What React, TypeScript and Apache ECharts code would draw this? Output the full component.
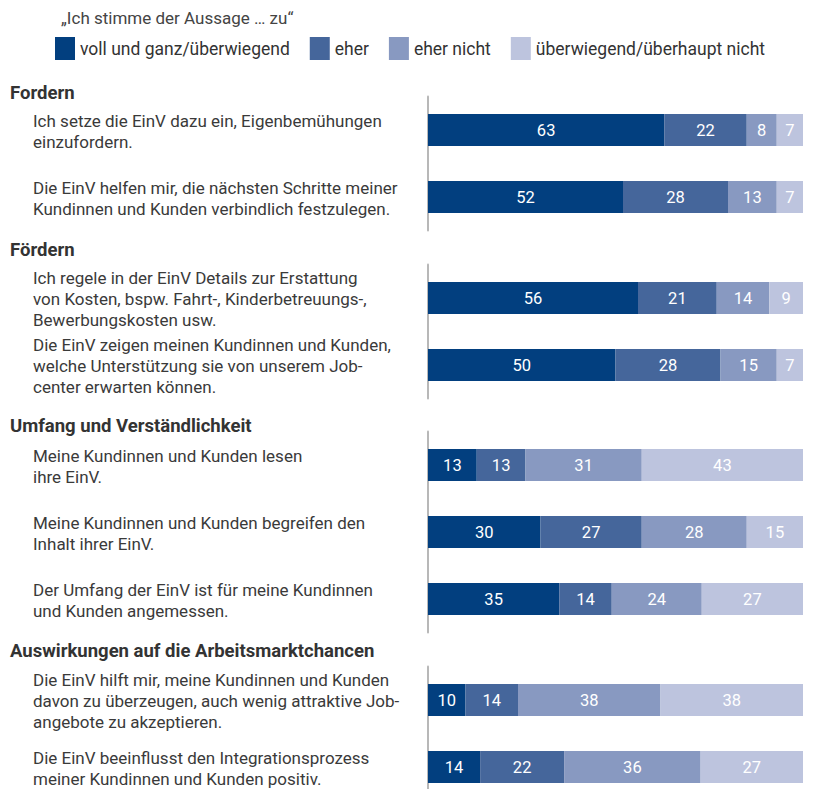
import React, { useEffect, useRef } from "react";
import * as echarts from "echarts";

// ---- data ----
const legendTitle = "„Ich stimme der Aussage … zu“";
const seriesNames = [
  "voll und ganz/überwiegend",
  "eher",
  "eher nicht",
  "überwiegend/überhaupt nicht",
];
const groupTitles = [
  "Fordern",
  "Fördern",
  "Umfang und Verständlichkeit",
  "Auswirkungen auf die Arbeitsmarktchancen",
];
const groupSizes = [2, 2, 3, 2];
const statements = [
  "Ich setze die EinV dazu ein, Eigenbemühungen\neinzufordern.",
  "Die EinV helfen mir, die nächsten Schritte meiner\nKundinnen und Kunden verbindlich festzulegen.",
  "Ich regele in der EinV Details zur Erstattung\nvon Kosten, bspw. Fahrt-, Kinderbetreuungs-,\nBewerbungskosten usw.",
  "Die EinV zeigen meinen Kundinnen und Kunden,\nwelche Unterstützung sie von unserem Job-\ncenter erwarten können.",
  "Meine Kundinnen und Kunden lesen\nihre EinV.",
  "Meine Kundinnen und Kunden begreifen den\nInhalt ihrer EinV.",
  "Der Umfang der EinV ist für meine Kundinnen\nund Kunden angemessen.",
  "Die EinV hilft mir, meine Kundinnen und Kunden\ndavon zu überzeugen, auch wenig attraktive Job-\nangebote zu akzeptieren.",
  "Die EinV beeinflusst den Integrationsprozess\nmeiner Kundinnen und Kunden positiv.",
];
const vollUndGanz = [63, 52, 56, 50, 13, 30, 35, 10, 13.9];
const eher = [22, 28, 21, 28, 13, 27, 14, 14, 22.4];
const eherNicht = [8, 13, 14, 15, 31, 28, 24, 38, 36.4];
const ueberhauptNicht = [7, 7, 9, 7, 43, 15, 27, 38, 27.3];

// ---- styling / layout ----
const colors = ["#023f7f", "#45669b", "#8899c1", "#bdc4de"];
const FONT = "Roboto, sans-serif";
const gridTops = [96.5, 264.5, 431.5, 666.5];
const headerY = [93, 250, 426, 651];
const BAND = 67;
const LABEL_BOX = 385;

export default function App() {
  const ref = useRef<HTMLDivElement>(null);
  useEffect(() => {
    if (!ref.current) return;
    const chart = echarts.init(ref.current, undefined, { renderer: "svg" });
    const allSeries = [vollUndGanz, eher, eherNicht, ueberhauptNicht];

    const grids: any[] = [];
    const xAxes: any[] = [];
    const yAxes: any[] = [];
    const series: any[] = [];
    let start = 0;
    groupSizes.forEach((n, g) => {
      grids.push({
        left: 428,
        right: 11,
        top: gridTops[g],
        height: BAND * n,
        containLabel: false,
        outerBoundsMode: "none",
      });
      xAxes.push({ type: "value", gridIndex: g, min: 0, max: 100, show: false });
      yAxes.push({
        type: "category",
        gridIndex: g,
        inverse: true,
        data: statements.slice(start, start + n),
        axisLine: { show: true, lineStyle: { color: "#b8b8b8", width: 2 } },
        axisTick: { show: false },
        splitLine: { show: false },
        axisLabel: {
          interval: 0,
          hideOverlap: false,
          margin: 428 - 33 - LABEL_BOX,
          align: "right",
          verticalAlign: "middle",
          padding: [2, 0, 0, 0],
          color: "#3a3a3a",
          fontSize: 17,
          lineHeight: 21,
          fontFamily: FONT,
          formatter: (v: string) =>
            v
              .split("\n")
              .map((l) => "{t|" + l + "}")
              .join("\n"),
          rich: {
            t: {
              width: LABEL_BOX,
              align: "left",
              color: "#3a3a3a",
              fontSize: 17,
              lineHeight: 21,
              fontFamily: FONT,
            },
          },
        },
      });
      allSeries.forEach((arr, k) => {
        series.push({
          type: "bar",
          name: seriesNames[k],
          stack: "g" + g,
          xAxisIndex: g,
          yAxisIndex: g,
          barWidth: 32,
          itemStyle: { color: colors[k] },
          label: {
            show: true,
            position: "inside",
            color: "#ffffff",
            fontSize: 16.5,
            fontFamily: FONT,
            formatter: (p: any) => String(Math.round(p.value)),
          },
          data: arr.slice(start, start + n),
        });
      });
      start += n;
    });

    const graphics: any[] = groupTitles.map((t, g) => ({
      type: "text",
      x: 10,
      y: headerY[g],
      style: {
        text: t,
        fontSize: 18.5,
        fontWeight: "bold",
        fontFamily: FONT,
        fill: "#333",
        verticalAlign: "middle",
      },
    }));

    chart.setOption({
      animation: false,
      backgroundColor: "#ffffff",
      title: {
        text: legendTitle,
        left: 61,
        top: 9,
        padding: 0,
        textStyle: { fontSize: 17, fontWeight: "normal", color: "#444", fontFamily: FONT },
      },
      legend: {
        data: seriesNames,
        left: 55,
        top: 37,
        padding: 0,
        itemWidth: 20,
        itemHeight: 23,
        itemGap: 20,
        selectedMode: false,
        icon: "rect",
        textStyle: { fontSize: 17.5, color: "#333", fontFamily: FONT },
      },
      grid: grids,
      xAxis: xAxes,
      yAxis: yAxes,
      series,
      graphic: graphics,
    });
    return () => chart.dispose();
  }, []);
  return (
    <div
      ref={ref}
      style={{ position: "absolute", left: 0, top: 0, width: 814, height: 789 }}
    />
  );
}
